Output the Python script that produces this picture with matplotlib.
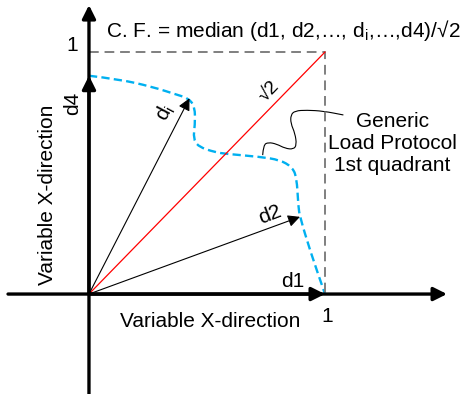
import matplotlib
matplotlib.use("Agg")
import matplotlib.pyplot as plt
from matplotlib.path import Path
from matplotlib.patches import PathPatch

plt.rcParams["font.family"] = ["Liberation Sans", "DejaVu Sans"]

# generic load protocol path in the first quadrant (normalised displacements)
proto_x = [0.0, 0.124, 0.266, 0.378, 0.421, 0.449, 0.449, 0.442, 0.463,
           0.534, 0.583, 0.725, 0.809, 0.859, 0.880, 0.887, 0.894, 0.936,
           1.0]
proto_y = [0.902, 0.888, 0.857, 0.822, 0.809, 0.774, 0.698, 0.643, 0.609,
           0.586, 0.579, 0.567, 0.554, 0.526, 0.485, 0.361, 0.319, 0.182,
           0.0]

# displacement vectors drawn from the origin
d_names = ["d1", "d2", "di", "d4"]
d_tips = [(1.0, 0.0), (0.894, 0.319), (0.426, 0.809), (0.0, 0.902)]

# wavy leader from the protocol curve to its label
lead_x = [0.736, 0.739, 0.760, 0.795, 0.831, 0.866, 0.880, 0.873, 0.855,
          0.855, 0.873, 0.922, 0.993, 1.078]
lead_y = [0.574, 0.616, 0.627, 0.620, 0.602, 0.598, 0.616, 0.664, 0.705,
          0.740, 0.757, 0.760, 0.756, 0.740]


def smooth_path(xs, ys):
    """Quadratic spline through midpoints, corners at the ends."""
    pts = list(zip(xs, ys))
    verts, codes = [pts[0]], [Path.MOVETO]
    for i in range(1, len(pts) - 1):
        mid = ((pts[i][0] + pts[i + 1][0]) / 2, (pts[i][1] + pts[i + 1][1]) / 2)
        verts += [pts[i], mid]
        codes += [Path.CURVE3, Path.CURVE3]
    verts.append(pts[-1])
    codes.append(Path.LINETO)
    return Path(verts, codes)


fig = plt.figure(figsize=(4.68, 3.94), dpi=100)
ax = fig.add_axes([0, 0, 1, 1])
ax.set_xlim(-0.377, 1.606)
ax.set_ylim(-0.413, 1.215)
ax.axis("off")

# main axes with arrowheads
axis_kw = dict(arrowstyle="-|>", lw=2.4, color="black",
               mutation_scale=20, shrinkA=0, shrinkB=0)
ax.annotate("", xy=(1.517, 0), xytext=(-0.343, 0), arrowprops=axis_kw)
ax.annotate("", xy=(0, 1.194), xytext=(0, -0.413), arrowprops=axis_kw)

# unit square boundary and diagonal
ax.plot([0, 1, 1], [1, 1, 0], color="#7f7f7f", lw=1.4, ls=(0, (5, 3)))
ax.plot([0, 1], [0, 1], color="#ff0000", lw=0.9)

ax.add_patch(PathPatch(smooth_path(proto_x, proto_y), fill=False,
                       edgecolor="#00b0f0", lw=1.7, ls=(0, (3.5, 1.8))))

# d1 and d4 lie on the axes (thick), d2 and di are thin arrows
for name, tip in zip(d_names, d_tips):
    if name in ("d1", "d4"):
        kw = dict(arrowstyle="-|>", lw=2.4, color="black",
                  mutation_scale=20, shrinkA=0, shrinkB=0)
    else:
        kw = dict(arrowstyle="-|>", lw=0.8, color="black",
                  mutation_scale=18, shrinkA=0, shrinkB=0)
    ax.annotate("", xy=tip, xytext=(0, 0), arrowprops=kw)

ax.add_patch(PathPatch(smooth_path(lead_x, lead_y), fill=False,
                       edgecolor="black", lw=0.8))

fs = 15
ax.text(-0.068, 0.789, "d4", rotation=90, fontsize=fs, ha="center", va="center")
ax.text(0.322, 0.748, r"d$_\mathregular{i}$", rotation=62, fontsize=fs,
        ha="center", va="center")
ax.text(0.767, 0.326, "d2", rotation=21, fontsize=fs, ha="center", va="center")
ax.text(0.864, 0.050, "d1", fontsize=fs, ha="center", va="center")
ax.text(0.767, 0.835, "√2", rotation=46, fontsize=fs - 1, ha="center",
        va="center")
ax.text(-0.072, 1.029, "1", fontsize=fs, ha="center", va="center")
ax.text(1.008, -0.091, "1", fontsize=fs, ha="center", va="center")
ax.text(0.513, -0.112, "Variable X-direction", fontsize=fs, ha="center",
        va="center")
ax.text(-0.174, 0.409, "Variable X-direction", rotation=90, fontsize=fs,
        ha="center", va="center")
ax.text(0.822, 1.087,
        r"C. F. = median (d1, d2,…, d$_\mathregular{i}$,…,d4)/√2",
        fontsize=fs, ha="center", va="center")
ax.text(1.284, 0.622, "Generic\nLoad Protocol\n1st quadrant", fontsize=fs,
        ha="center", va="center", linespacing=1.22)

fig.savefig("out.png", dpi=100)
